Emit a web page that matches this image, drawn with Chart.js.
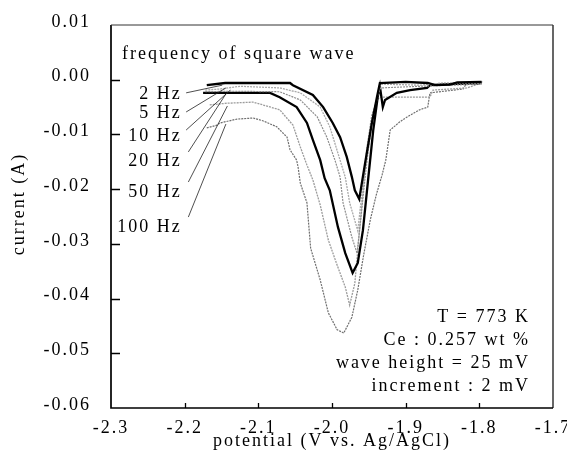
<!DOCTYPE html>
<html>
<head>
<meta charset="utf-8">
<script src="https://cdn.jsdelivr.net/npm/chart.js@4"></script>
<style>
html,body{margin:0;padding:0;background:#fff;}
</style>
</head>
<body>
<canvas id="chart" width="567" height="468"></canvas>
<script>
// ---------- data (potential in V vs. Ag/AgCl, current in A) ----------

const freqLabels = ["2 Hz","5 Hz","10 Hz","20 Hz","50 Hz","100 Hz"];

const xTicks = [-2.3,-2.2,-2.1,-2.0,-1.9,-1.8,-1.7];
const yTicks = [0.01,0.00,-0.01,-0.02,-0.03,-0.04,-0.05,-0.06];

const hz2Potential = [-2.170,-2.145,-2.057,-2.053,-2.026,-2.012,-1.999,-1.989,-1.980,-1.973,-1.969,-1.963,-1.955,-1.946,-1.939,-1.935,-1.900,-1.870,-1.860,-1.840,-1.830,-1.797];
const hz2Current = [-0.0010,-0.0006,-0.0006,-0.0010,-0.0028,-0.0050,-0.0079,-0.0105,-0.0141,-0.0178,-0.0202,-0.0218,-0.0152,-0.0080,-0.0032,-0.0006,-0.0004,-0.0006,-0.0010,-0.0009,-0.0005,-0.0004];

const hz5Potential = [-2.172,-2.152,-2.125,-2.071,-2.043,-2.016,-2.003,-1.992,-1.982,-1.976,-1.965,-1.959,-1.951,-1.943,-1.936,-1.934,-1.880,-1.850,-1.797];
const hz5Current = [-0.0019,-0.0017,-0.0012,-0.0015,-0.0024,-0.0050,-0.0086,-0.0134,-0.0178,-0.0225,-0.0276,-0.0203,-0.0130,-0.0057,-0.0020,-0.0008,-0.0010,-0.0006,-0.0006];

const hz10Potential = [-2.172,-2.139,-2.071,-2.043,-2.020,-2.007,-1.996,-1.989,-1.985,-1.973,-1.966,-1.961,-1.954,-1.946,-1.938,-1.934,-1.881,-1.840,-1.797];
const hz10Current = [-0.0022,-0.0021,-0.0022,-0.0037,-0.0068,-0.0105,-0.0147,-0.0178,-0.0225,-0.0288,-0.0317,-0.0256,-0.0165,-0.0074,-0.0028,-0.0015,-0.0012,-0.0010,-0.0008];

const hz20Potential = [-2.175,-2.152,-2.084,-2.071,-2.048,-2.034,-2.026,-2.016,-2.010,-2.003,-1.992,-1.982,-1.972,-1.965,-1.958,-1.951,-1.944,-1.938,-1.935,-1.931,-1.928,-1.912,-1.894,-1.871,-1.867,-1.840,-1.797];
const hz20Current = [-0.0024,-0.0024,-0.0024,-0.0032,-0.0050,-0.0079,-0.0110,-0.0147,-0.0180,-0.0202,-0.0269,-0.0317,-0.0353,-0.0335,-0.0275,-0.0183,-0.0092,-0.0032,-0.0012,-0.0050,-0.0037,-0.0024,-0.0019,-0.0015,-0.0010,-0.0008,-0.0006];

const hz50Potential = [-2.166,-2.143,-2.107,-2.094,-2.071,-2.053,-2.043,-2.034,-2.026,-2.016,-2.005,-1.993,-1.982,-1.976,-1.969,-1.965,-1.959,-1.953,-1.946,-1.939,-1.935,-1.867,-1.863,-1.817,-1.797];
const hz50Current = [-0.0046,-0.0043,-0.0041,-0.0046,-0.0055,-0.0083,-0.0123,-0.0156,-0.0183,-0.0229,-0.0293,-0.0339,-0.0379,-0.0412,-0.0372,-0.0311,-0.0220,-0.0128,-0.0065,-0.0037,-0.0032,-0.0032,-0.0019,-0.0015,-0.0006];

const hz100Potential = [-2.170,-2.156,-2.152,-2.129,-2.107,-2.094,-2.075,-2.061,-2.057,-2.048,-2.046,-2.043,-2.034,-2.029,-2.016,-2.005,-1.993,-1.984,-1.973,-1.965,-1.957,-1.948,-1.940,-1.932,-1.927,-1.921,-1.908,-1.898,-1.881,-1.870,-1.867,-1.822,-1.817,-1.796];
const hz100Current = [-0.0088,-0.0083,-0.0079,-0.0072,-0.0070,-0.0075,-0.0086,-0.0105,-0.0128,-0.0147,-0.0160,-0.0189,-0.0225,-0.0308,-0.0366,-0.0426,-0.0457,-0.0463,-0.0434,-0.0384,-0.0320,-0.0256,-0.0211,-0.0174,-0.0147,-0.0092,-0.0077,-0.0068,-0.0055,-0.0050,-0.0024,-0.0017,-0.0006,-0.0004];

const conditionLines = ["T = 773 K","Ce : 0.257 wt %","wave height = 25 mV","increment : 2 mV"];

// label anchors (data units) for the frequency notes and their leader lines
const labelPotential = -2.204;
const labelCurrent = [-0.0026,-0.0061,-0.0103,-0.0149,-0.0205,-0.0269];
const leaderFromPotential = [-2.198,-2.198,-2.198,-2.195,-2.195,-2.195];
const leaderFromCurrent = [-0.0024,-0.0059,-0.0092,-0.0132,-0.0187,-0.0251];
const leaderToPotential = [-2.149,-2.144,-2.138,-2.144,-2.142,-2.144];
const leaderToCurrent = [-0.0010,-0.0015,-0.0019,-0.0026,-0.0048,-0.0081];

// ---------- helpers ----------

const FONT = '"Liberation Serif", "DejaVu Serif", serif';

function toPoints(xs, ys){
    return xs.map((v,i)=>({x:v, y:ys[i]}));
}

function series(label, xs, ys, color, width, dash){
    return {
        label:label,
        data:toPoints(xs, ys),
        borderColor:color,
        borderWidth:width,
        borderDash:dash || [],
        pointRadius:0,
        tension:0,
        fill:false
    };
}

// frame, inward ticks, notes
const notesPlugin = {
    id:"notes",
    beforeDraw(chart){
        chart.ctx.letterSpacing = "2px";
    },
    afterDatasetsDraw(chart){
        const {ctx, chartArea:a, scales:{x, y}} = chart;
        ctx.save();

        // frame
        ctx.strokeStyle = "#000";
        ctx.lineWidth = 1.7;
        ctx.beginPath();
        ctx.moveTo(a.left, a.top);
        ctx.lineTo(a.left, a.bottom);
        ctx.lineTo(a.right, a.bottom);
        ctx.stroke();
        ctx.lineWidth = 1.2;
        ctx.beginPath();
        ctx.moveTo(a.right, a.bottom);
        ctx.lineTo(a.right, a.top);
        ctx.stroke();
        ctx.strokeStyle = "#333";
        ctx.lineWidth = 1;
        ctx.beginPath();
        ctx.moveTo(a.left, a.top);
        ctx.lineTo(a.right, a.top);
        ctx.stroke();

        // inward ticks
        ctx.strokeStyle = "#000";
        ctx.lineWidth = 1.3;
        ctx.beginPath();
        yTicks.slice(1, -1).forEach(v=>{
            const py = Math.round(y.getPixelForValue(v)) + 0.5;
            ctx.moveTo(a.left, py);
            ctx.lineTo(a.left + 9, py);
        });
        xTicks.slice(1, -1).forEach(v=>{
            const px = Math.round(x.getPixelForValue(v)) + 0.5;
            ctx.moveTo(px, a.bottom);
            ctx.lineTo(px, a.bottom - 5);
        });
        ctx.stroke();

        // leader lines
        ctx.lineWidth = 0.8;
        ctx.strokeStyle = "#222";
        ctx.beginPath();
        freqLabels.forEach((t,i)=>{
            ctx.moveTo(x.getPixelForValue(leaderFromPotential[i]), y.getPixelForValue(leaderFromCurrent[i]));
            ctx.lineTo(x.getPixelForValue(leaderToPotential[i]), y.getPixelForValue(leaderToCurrent[i]));
        });
        ctx.stroke();

        // text
        ctx.fillStyle = "#000";
        ctx.font = "18px " + FONT;
        ctx.letterSpacing = "2px";
        ctx.textBaseline = "middle";
        ctx.textAlign = "right";
        freqLabels.forEach((t,i)=>{
            ctx.fillText(t, x.getPixelForValue(labelPotential), y.getPixelForValue(labelCurrent[i]));
        });

        ctx.textBaseline = "alphabetic";
        ctx.textAlign = "left";
        ctx.fillText("frequency of square wave", a.left + 11, a.top + 34);

        ctx.textAlign = "right";
        conditionLines.forEach((t,i)=>{
            ctx.fillText(t, a.right - 23, a.top + 297 + i * 23);
        });

        // y axis title, a little above the plot centre as in the original
        ctx.save();
        ctx.translate(19, a.top + 179);
        ctx.rotate(-Math.PI / 2);
        ctx.textAlign = "center";
        ctx.textBaseline = "middle";
        ctx.fillText("current (A)", 0, 0);
        ctx.restore();

        ctx.restore();
    }
};

// ---------- chart ----------

new Chart(document.getElementById("chart"),{
    type:"line",
    data:{
        datasets:[
            series("2 Hz", hz2Potential, hz2Current, "#000000", 2.3),
            series("5 Hz", hz5Potential, hz5Current, "#a9a9a9", 1.3, [2,1]),
            series("10 Hz", hz10Potential, hz10Current, "#8d8d8d", 1.2, [2,1]),
            series("20 Hz", hz20Potential, hz20Current, "#000000", 2.3),
            series("50 Hz", hz50Potential, hz50Current, "#9c9c9c", 1.3, [2,1]),
            series("100 Hz", hz100Potential, hz100Current, "#6f6f6f", 1.2, [2,1])
        ]
    },
    options:{
        responsive:false,
        animation:false,
        devicePixelRatio:1,
        layout:{padding:{top:25, right:14, left:0, bottom:0}},
        plugins:{
            legend:{display:false},
            tooltip:{enabled:false}
        },
        scales:{
            x:{
                type:"linear",
                min:xTicks[0],
                max:xTicks[xTicks.length-1],
                grid:{display:false},
                border:{display:false},
                afterBuildTicks:(s)=>{ s.ticks = xTicks.map(v=>({value:v})); },
                afterFit:(s)=>{ s.height = 60; s.paddingLeft = 0; s.paddingRight = 0; },
                ticks:{
                    autoSkip:false,
                    maxRotation:0,
                    padding:1,
                    color:"#000",
                    font:{family:FONT, size:18},
                    callback:(v)=>Number(v).toFixed(1)
                },
                title:{
                    display:true,
                    text:"potential (V vs. Ag/AgCl)",
                    color:"#000",
                    font:{family:FONT, size:18},
                    padding:{top:0, bottom:16}
                }
            },
            y:{
                type:"linear",
                min:yTicks[yTicks.length-1],
                max:yTicks[0],
                grid:{display:false},
                border:{display:false},
                afterBuildTicks:(s)=>{ s.ticks = yTicks.map(v=>({value:v})); },
                afterFit:(s)=>{ s.width = 111; s.paddingTop = 0; s.paddingBottom = 0; },
                ticks:{
                    autoSkip:false,
                    padding:12,
                    labelOffset:-3,
                    color:"#000",
                    font:{family:FONT, size:18},
                    callback:(v)=>(Math.abs(v) < 1e-9 ? 0 : Number(v)).toFixed(2)
                },
                title:{display:false}
            }
        }
    },
    plugins:[notesPlugin]
});
</script>
</body>
</html>
